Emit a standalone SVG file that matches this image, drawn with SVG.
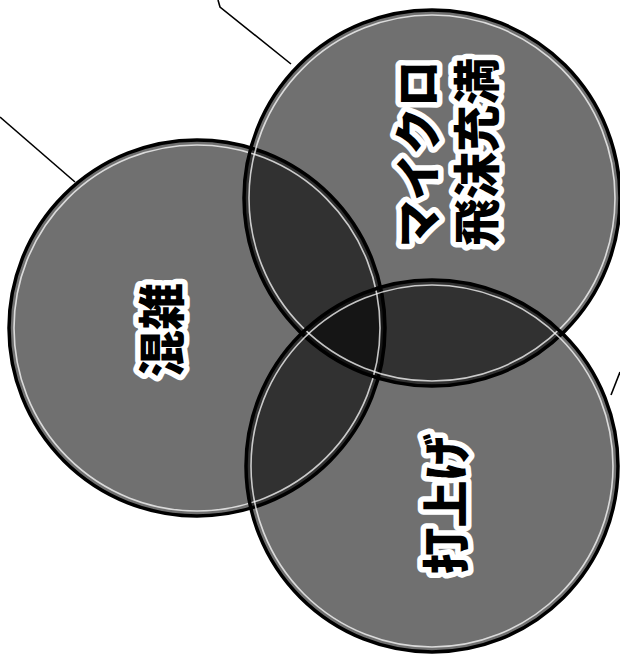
<svg xmlns="http://www.w3.org/2000/svg" width="620" height="657" viewBox="0 0 620 657">
  <style>
    .fill { fill: #000; fill-opacity: 0.56; }
    .edge { fill: none; stroke: #000; stroke-width: 3.5; }
    .hl { fill: none; stroke: #fff; stroke-width: 1.6; stroke-opacity: 0.75; }
    .lbl { font-family: "Noto Sans CJK JP", "Noto Sans CJK SC", sans-serif; font-weight: 900; font-size: 47px; fill: #000; stroke: #fff; stroke-width: 11; stroke-linejoin: round; paint-order: stroke; text-anchor: middle; dominant-baseline: central; }
    .wire { fill: none; stroke: #000; stroke-width: 1.6; }
  </style>
  <rect width="620" height="657" fill="#fff"/>
  <g id="connectors">
    <polyline class="wire" points="218,0 220,7 291,64"/>
    <polyline class="wire" points="0,117 75,182"/>
    <polyline class="wire" points="620,372 611,395"/>
  </g>
  <g id="circle-konzatsu">
    <circle class="fill" cx="197" cy="328" r="188"/>
  </g>
  <g id="circle-micro">
    <circle class="fill" cx="432" cy="198" r="188"/>
  </g>
  <g id="circle-uchiage">
    <circle class="fill" cx="432" cy="466" r="186"/>
  </g>
  <g id="outlines">
    <circle class="edge" cx="197" cy="328" r="188"/>
    <circle class="hl" cx="197" cy="328" r="183"/>
    <circle class="edge" cx="432" cy="198" r="188"/>
    <circle class="hl" cx="432" cy="198" r="183"/>
    <circle class="edge" cx="432" cy="466" r="186"/>
    <circle class="hl" cx="432" cy="466" r="181"/>
  </g>
  <g id="node-konzatsu">
    <text class="lbl" x="158" y="330" transform="rotate(-90 158 330)">混雑</text>
  </g>
  <g id="node-micro">
    <text class="lbl" x="414" y="154" transform="rotate(-90 414 154)">マイクロ</text>
    <text class="lbl" x="473" y="152" transform="rotate(-90 473 152)">飛沫充満</text>
  </g>
  <g id="node-uchiage">
    <text class="lbl" x="442" y="504" transform="rotate(-90 442 504)">打上げ</text>
  </g>
</svg>
